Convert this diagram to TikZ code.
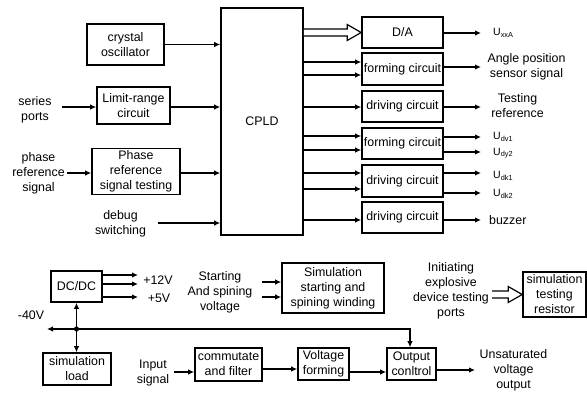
\documentclass[tikz,border=0pt]{standalone}
\usepackage{fontspec}
\setmainfont{Liberation Sans}
\usetikzlibrary{arrows.meta,calc}
\newcommand{\openarr}[2]{%
  \draw[fill=white,line width=1.2pt,line join=miter] let \p1=(#1), \p2=(#2) in
    (\x1,\y2+3.5pt) -- (\x2-14pt,\y2+3.5pt) -- (\x2-14pt,\y2+8pt) -- (\x2,\y2)
    -- (\x2-14pt,\y2-8pt) -- (\x2-14pt,\y2-3.5pt) -- (\x1,\y2-3.5pt);}
\begin{document}
\begin{tikzpicture}[x=1pt,y=-1pt,
  box/.style={draw,line width=1.6pt,inner sep=0pt,align=center,font=\fontsize{12.4}{15}\selectfont},
  lbl/.style={inner sep=0pt,align=center,font=\fontsize{12.4}{15}\selectfont},
  ulbl/.style={inner sep=0pt,anchor=west,font=\fontsize{10.5}{12}\selectfont},
  arr/.style={line width=1.4pt,-{Latex[length=6pt,width=5.5pt]}},
  darr/.style={line width=1.4pt,{Latex[length=6pt,width=5.5pt]}-{Latex[length=6pt,width=5.5pt]}},
  ]
\useasboundingbox (0,0) rectangle (587,392);

% ---------- top section ----------
\node[box,minimum width=77pt,minimum height=41pt] (xtal) at (125.5,44.5) {crystal\\oscillator};
\node[box,minimum width=73pt,minimum height=37pt] (lim) at (133.5,105.5) {Limit-range\\circuit};
\node[box,minimum width=88pt,minimum height=46pt] (phase) at (136,171.5) {Phase\\reference\\signal testing};
\node[box,minimum width=82pt,minimum height=227pt] (cpld) at (262,121.5) {CPLD};

\node[box,minimum width=81pt,minimum height=31pt] (da) at (402.5,32.5) {D/A};
\node[box,minimum width=81pt,minimum height=32pt] (f1) at (402.5,69) {forming circuit};
\node[box,minimum width=81pt,minimum height=31pt] (d1) at (402.5,106.5) {driving circuit};
\node[box,minimum width=81pt,minimum height=31pt] (f2) at (402.5,143.5) {forming circuit};
\node[box,minimum width=81pt,minimum height=32pt] (d2) at (402.5,181) {driving circuit};
\node[box,minimum width=81pt,minimum height=31pt] (d3) at (402.5,217.5) {driving circuit};

% left labels
\node[lbl] (ser) at (35,110) {series\\ports};
\node[lbl] (phl) at (38.5,173.5) {phase\\reference\\signal};
\node[lbl] (dbg) at (120.5,224) {debug\\switching};
\coordinate (serA) at (62,107);
\coordinate (phA) at (67,173);
\coordinate (dbA) at (158,223);

\draw[arr] (xtal.east) -- (xtal.east -| cpld.west);
\draw[arr] (serA) -- (serA -| lim.west);
\draw[arr] (lim.east |- serA) -- (serA -| cpld.west);
\draw[arr] (phA) -- (phA -| phase.west);
\draw[arr] (phase.east |- phA) -- (phA -| cpld.west);
\draw[arr] (dbA) -- (dbA -| cpld.west);

% CPLD to right boxes
\openarr{cpld.east}{da.west}
\draw[arr] ([yshift=7pt]f1.west -| cpld.east) -- ([yshift=7pt]f1.west);
\draw[arr] ([yshift=-6pt]f1.west -| cpld.east) -- ([yshift=-6pt]f1.west);
\draw[arr] ([yshift=-0.5pt]d1.west -| cpld.east) -- ([yshift=-0.5pt]d1.west);
\draw[arr] ([yshift=7.5pt]f2.west -| cpld.east) -- ([yshift=7.5pt]f2.west);
\draw[arr] ([yshift=-6.5pt]f2.west -| cpld.east) -- ([yshift=-6.5pt]f2.west);
\draw[arr] ([yshift=8pt]d2.west -| cpld.east) -- ([yshift=8pt]d2.west);
\draw[arr] ([yshift=-8pt]d2.west -| cpld.east) -- ([yshift=-8pt]d2.west);
\draw[arr] ([yshift=-2.5pt]d3.west -| cpld.east) -- ([yshift=-2.5pt]d3.west);

% outputs on the right
\coordinate (oda) at (481,33);
\coordinate (of1) at (481,67);
\coordinate (od1) at (481,107);
\coordinate (of2a) at (481,137);
\coordinate (of2b) at (481,152);
\coordinate (od2a) at (481,173);
\coordinate (od2b) at (481,193);
\coordinate (od3) at (481,220);
\draw[arr] (da.east |- oda) -- (oda);
\draw[arr] (f1.east |- of1) -- (of1);
\draw[arr] (d1.east |- od1) -- (od1);
\draw[arr] (f2.east |- of2a) -- (of2a);
\draw[arr] (f2.east |- of2b) -- (of2b);
\draw[arr] (d2.east |- od2a) -- (od2a);
\draw[arr] (d2.east |- od2b) -- (od2b);
\draw[arr] (d3.east |- od3) -- (od3);

\node[ulbl] (uxxa) at (493,33) {U\textsubscript{xxA}};
\node[lbl] (ang) at (526.5,67) {Angle position\\sensor signal};
\node[lbl] (tref) at (517.5,106) {Testing\\reference};
\node[ulbl] (udv1) at (493,137) {U\textsubscript{dv1}};
\node[ulbl] (udy2) at (493,153) {U\textsubscript{dy2}};
\node[ulbl] (udk1) at (493,176) {U\textsubscript{dk1}};
\node[ulbl] (udk2) at (493,194) {U\textsubscript{dk2}};
\node[lbl,anchor=west] (buz) at (489,220) {buzzer};

% ---------- bottom section ----------
\node[box,minimum width=51pt,minimum height=31pt] (dcdc) at (76.5,286.5) {DC/DC};
\node[box,minimum width=68pt,minimum height=32pt] (sload) at (77,369) {simulation\\load};
\node[box,minimum width=67pt,minimum height=33pt] (comm) at (228.5,364.5) {commutate\\and filter};
\node[box,minimum width=51pt,minimum height=32pt] (volt) at (323.5,364) {Voltage\\forming};
\node[box,minimum width=49pt,minimum height=32pt] (outc) at (411.5,364) {Output\\conltrol};
\node[box,minimum width=102pt,minimum height=50pt] (wind) at (333,288) {Simulation\\starting and\\spining winding};
\node[box,minimum width=63pt,minimum height=45pt] (res) at (554.5,294.5) {simulation\\testing\\resistor};

\node[lbl] (v12) at (158,280) {+12V};
\node[lbl] (v5) at (159,298.5) {+5V};
\node[lbl] (v40) at (31,315) {-40V};
\node[lbl] (insig) at (153,373.5) {Input\\signal};
\node[lbl] (stv) at (220,292) {Starting\\And spining\\voltage};
\node[lbl] (init) at (451,290.5) {Initiating\\explosive\\device testing\\ports};
\node[lbl] (unsat) at (513.5,370) {Unsaturated\\voltage\\output};

% DC/DC outputs
\coordinate (p12a) at (138,275);
\coordinate (p12b) at (138,284);
\coordinate (p5) at (138,297);
\draw[arr] (dcdc.east |- p12a) -- (p12a);
\draw[arr] (dcdc.east |- p12b) -- (p12b);
\draw[arr] (dcdc.east |- p5) -- (p5);

% -40V bus
\coordinate (busL) at (47,329);
\coordinate (busJ) at (dcdc.south |- busL);
\draw[darr] (dcdc.south) -- (dcdc.south |- sload.north);
\draw[arr] (busJ) -- (busL);
\draw[arr] (busJ) -| ([xshift=-1.5pt]outc.north);
\fill (busJ) circle (2.6pt);

% signal chain
\coordinate (inA) at (174,372);
\draw[arr] (inA) -- (inA -| comm.west);
\draw[arr] ([yshift=-4.5pt]comm.east) -- ([yshift=-4.5pt]comm.east -| volt.west);
\draw[arr] ([yshift=-8pt]volt.east) -- ([yshift=-8pt]volt.east -| outc.west);
\coordinate (outA) at (475,370);
\draw[arr] (outc.east |- outA) -- (outA);

% starting voltage arrows
\coordinate (stA) at (262,282);
\coordinate (stB) at (262,297);
\draw[arr] (stA) -- (stA -| wind.west);
\draw[arr] (stB) -- (stB -| wind.west);

% explosive device port arrow
\coordinate (exA) at (492,295);
\openarr{exA}{res.west}
\end{tikzpicture}
\end{document}
